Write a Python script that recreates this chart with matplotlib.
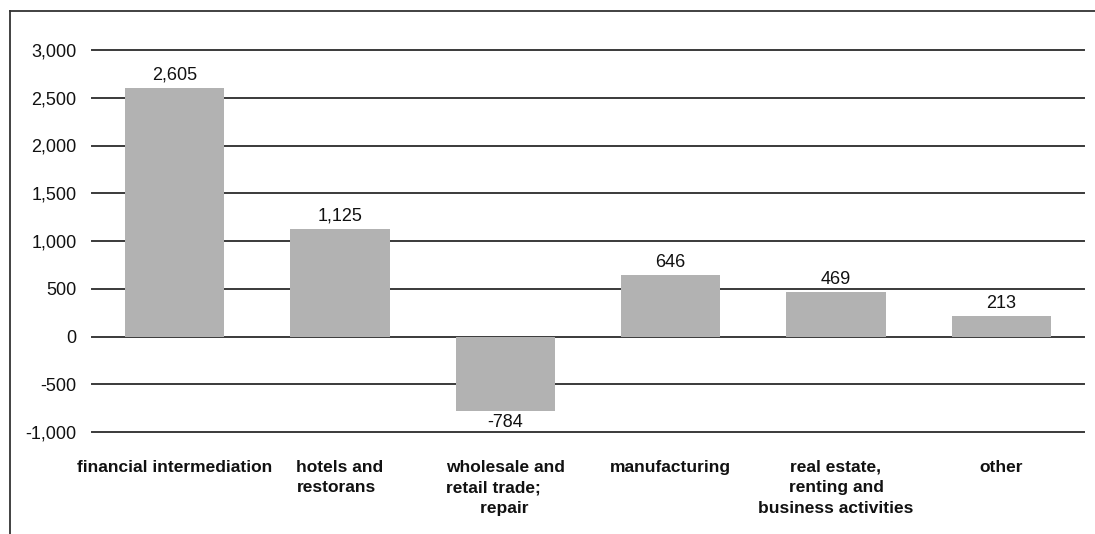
import matplotlib
matplotlib.use("Agg")
import matplotlib.pyplot as plt
from matplotlib.lines import Line2D
from matplotlib.ticker import FuncFormatter

plt.rcParams['font.family'] = ['Liberation Sans', 'DejaVu Sans']

categories = [
    "financial intermediation",
    "hotels and\nrestorans",
    "wholesale and\nretail trade;\n       repair",
    "manufacturing",
    "real estate,\nrenting and\nbusiness activities",
    "other",
]
label_align = ["center", "left", "left", "center", "center", "center"]
values = [2605, 1125, -784, 646, 469, 213]
yticks = [-1000, -500, 0, 500, 1000, 1500, 2000, 2500, 3000]

fig = plt.figure(figsize=(10.95, 5.34), dpi=100)
ax = fig.add_axes([92 / 1095, 1 - 432 / 534, (1084 - 92) / 1095, (432 - 50) / 534])

x = list(range(len(categories)))
bars = ax.bar(x, values, width=0.6, color="#b2b2b2", zorder=3)

for xi, v in zip(x, values):
    if v >= 0:
        ax.annotate(f"{v:,}", (xi, v), xytext=(0, 3), textcoords="offset points",
                    ha="center", va="bottom", fontsize=13, color="#111111")
    else:
        ax.annotate(f"{v:,}", (xi, v), xytext=(0, -2), textcoords="offset points",
                    ha="center", va="top", fontsize=13, color="#111111")

ax.set_xlim(-0.5, len(categories) - 0.5)
ax.set_ylim(-1000, 3000)
ax.set_yticks(yticks)
ax.yaxis.set_major_formatter(FuncFormatter(lambda v, p: f"{int(v):,}"))
ax.yaxis.grid(True, color="#3a3a3a", linewidth=1.4, zorder=1)
for gl in ax.get_ygridlines():
    gl.set_clip_on(False)
ax.set_axisbelow(True)
ax.tick_params(axis="y", length=0, pad=11, labelsize=13, labelcolor="#111111")
ax.tick_params(axis="x", length=0, pad=20)
for s in ax.spines.values():
    s.set_visible(False)

ax.set_xticks(x)
ax.set_xticklabels(categories, fontsize=12.5, fontweight="bold", color="#111111", va="top")
for lbl, ma in zip(ax.get_xticklabels(), label_align):
    lbl.set_multialignment(ma)
    lbl.set_linespacing(1.45)

# outer frame: left and top edges
fig.add_artist(Line2D([10 / 1095, 10 / 1095], [0, 1 - 11 / 534],
                      transform=fig.transFigure, color="#333333", linewidth=1.3))
fig.add_artist(Line2D([10 / 1095, 1], [1 - 11 / 534, 1 - 11 / 534],
                      transform=fig.transFigure, color="#333333", linewidth=1.3))

fig.savefig("out.png", dpi=100)
